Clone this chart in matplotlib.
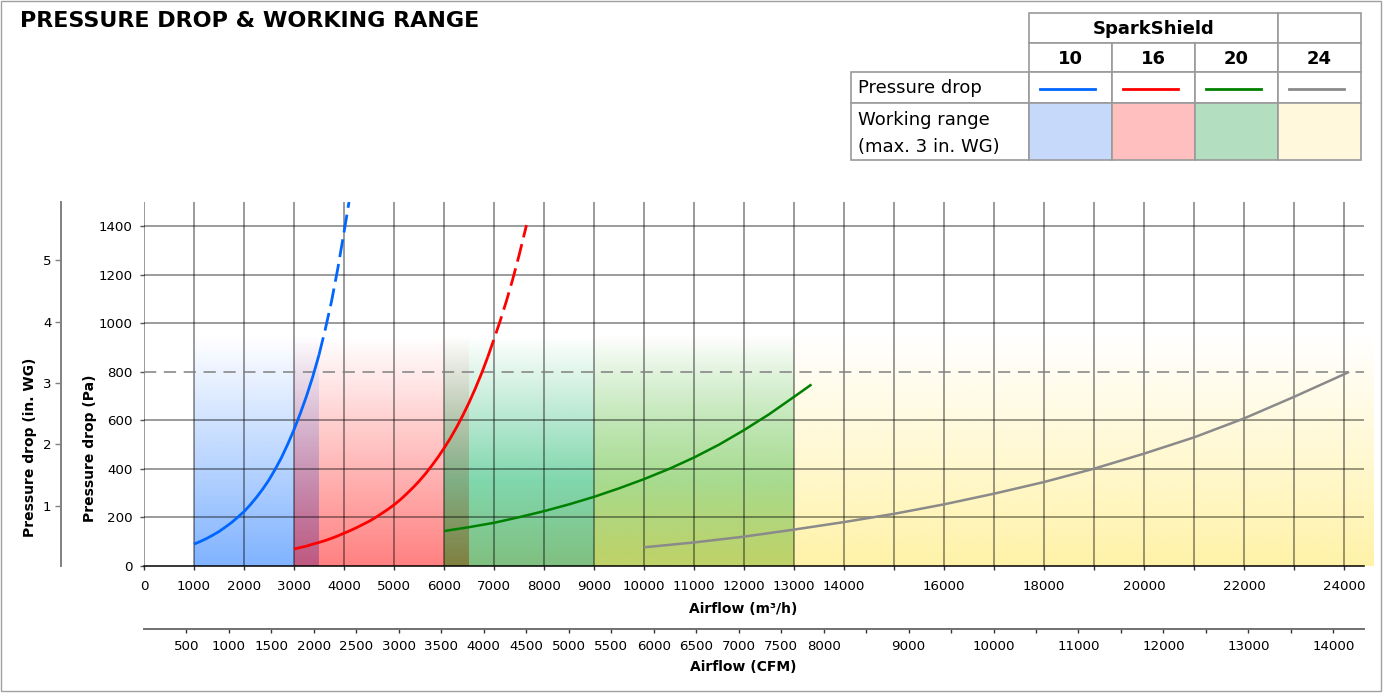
import numpy as np
import matplotlib
matplotlib.use('Agg')
import matplotlib.pyplot as plt
from matplotlib.patches import Rectangle
from matplotlib.lines import Line2D

# values: airflow in m3/h, pressure drop in Pa
models = ['10', '16', '20', '24']

blue_x = [1000, 1125, 1250, 1375, 1500, 1625, 1750, 1875, 2000, 2125, 2250, 2375, 2500,
          2625, 2750, 2875, 3000, 3125, 3250, 3375, 3500, 3625, 3750, 3875, 4000, 4100]
blue_y = [90, 101, 113, 127, 142, 160, 179, 201, 224, 252, 283, 317, 355,
          399, 447, 502, 562, 628, 700, 780, 870, 975, 1090, 1225, 1375, 1500]

red_x = [3000, 3125, 3250, 3375, 3500, 3625, 3750, 3875, 4000, 4125, 4250, 4375, 4500,
         4625, 4750, 4875, 5000, 5125, 5250, 5375, 5500, 5625, 5750, 5875, 6000,
         6125, 6250, 6375, 6500, 6625, 6750, 6875, 7000, 7125, 7250, 7375, 7500, 7650]
red_y = [70, 76, 82, 90, 97, 105, 114, 124, 135, 146, 158, 171, 184,
         199, 216, 233, 252, 273, 297, 322, 349, 379, 412, 447, 485,
         526, 571, 620, 673, 731, 793, 861, 935, 1011, 1093, 1182, 1279, 1405]

green_x = [6000, 6500, 7000, 7500, 8000, 8500, 9000, 9500, 10000, 10500, 11000, 11500,
           12000, 12500, 13000, 13350]
green_y = [144, 160, 178, 201, 226, 254, 285, 320, 358, 400, 447, 500, 560, 625, 697, 748]

gray_x = [10000, 11000, 12000, 13000, 14000, 15000, 16000, 17000, 18000, 19000, 20000,
          21000, 22000, 23000, 24000, 24100]
gray_y = [77, 97, 121, 150, 181, 215, 254, 298, 346, 401, 463, 530, 608, 697, 790, 800]

curves_x = [blue_x, red_x, green_x, gray_x]
curves_y = [blue_y, red_y, green_y, gray_y]
solid_until = [3500, 6875, 13350, 24100]   # beyond this the curve is dashed

working_ranges = [(1000, 3500), (3000, 6500), (6000, 13000), (9000, 24600)]
range_top = 950        # Pa, shading fades out here
limit_pa = 800         # dashed limit line
pa_per_inwg = 252.9    # as drawn on the chart's in. WG scale
inwg_offset = 4.4
m3h_per_cfm = 1.699

line_colors = ['#0066ff', '#ff0000', '#008000', '#8a8a8a']
# bottom colour and mid colour of each working range gradient
shade_bottom = [(0, 102, 255), (255, 0, 0), (0, 128, 0), (255, 230, 80)]
shade_mid = [(0, 102, 255), (255, 0, 0), (0, 175, 90), (255, 230, 80)]
shade_hold = [0, 0, 350, 0]   # Pa up to which the full alpha is kept
swatch_colors = ['#c6d9fb', '#ffbfbf', '#b3dfc0', '#fff8dc']

W, H = 1383, 693
fig = plt.figure(figsize=(W / 100, H / 100), dpi=100)
fig.patch.set_facecolor('white')


def fx(x):
    return x / W


def fy(y):
    return 1 - y / H


ax_l, ax_r, ax_t, ax_b = 144, 1364, 202, 566
ax = fig.add_axes([fx(ax_l), fy(ax_b), (ax_r - ax_l) / W, (ax_b - ax_t) / H])
ax.set_facecolor('none')

# working range gradients
pa = np.linspace(0, range_top, 256)
for (x0, x1), c0, c1, hold in zip(working_ranges, shade_bottom, shade_mid, shade_hold):
    img = np.zeros((256, 1, 4))
    if hold > 0:
        k = np.clip(pa / hold, 0, 1)[:, None]
        img[:, 0, :3] = ((1 - k) * np.array(c0) + k * np.array(c1)) / 255
        img[:, 0, 3] = np.where(pa <= hold, 0.5, 0.5 * (range_top - pa) / (range_top - hold))
    else:
        img[:, 0, :3] = np.array(c0) / 255
        img[:, 0, 3] = 0.5 * (1 - pa / range_top)
    im = ax.imshow(img, extent=[x0, x1, 0, range_top], origin='lower', aspect='auto',
                   interpolation='bilinear', zorder=1)
    im.set_clip_on(False)

xmax, ymax = 24400, 1500
xticks = list(range(0, 24001, 1000))
yticks = list(range(0, 1401, 200))

for xv in xticks:
    ax.plot([xv, xv], [0, ymax], color='black', alpha=0.5, lw=1.1, zorder=2,
            solid_capstyle='butt')
for yv in yticks:
    if yv in (0, limit_pa):
        continue
    ax.plot([0, xmax], [yv, yv], color='black', alpha=0.5, lw=1.1, zorder=2,
            solid_capstyle='butt')
ax.plot([0, xmax], [limit_pa, limit_pa], color='#808080', lw=1.1, ls=(0, (8, 5)), zorder=2)

# pressure drop curves
for xs, ys, split, c in zip(curves_x, curves_y, solid_until, line_colors):
    xs = np.array(xs)
    ys = np.array(ys)
    lw = 2.0 if c in ('#0066ff', '#ff0000') else 1.8
    m = xs <= split
    ax.plot(xs[m], ys[m], color=c, lw=lw, zorder=4, solid_capstyle='butt')
    m2 = xs >= split
    if m2.sum() > 1:
        ax.plot(xs[m2], ys[m2], color=c, lw=lw, ls=(0, (6.5, 2.5)), zorder=4)

ax.set_xlim(0, xmax)
ax.set_ylim(0, ymax)
for s in ['top', 'right', 'left']:
    ax.spines[s].set_visible(False)
ax.spines['bottom'].set_color('black')
ax.spines['bottom'].set_linewidth(1.1)
ax.spines['bottom'].set_zorder(5)

ax.set_xticks(xticks)
ax.set_xticklabels([str(v) if (v <= 14000 or v % 2000 == 0) else '' for v in xticks])
ax.set_yticks(yticks)
ax.set_yticklabels([str(v) for v in yticks])
ax.tick_params(axis='x', direction='out', length=3, width=1, color='#333333', pad=7,
               labelsize=9.6)
ax.tick_params(axis='y', direction='out', length=3, width=1, color='#555555', pad=5,
               labelsize=9.6)

# in. WG axis
sec_y = ax.secondary_yaxis(-(ax_l - 61) / (ax_r - ax_l),
                           functions=(lambda p: (p + inwg_offset) / pa_per_inwg,
                                      lambda w: w * pa_per_inwg - inwg_offset))
sec_y.set_yticks([1, 2, 3, 4, 5])
sec_y.set_yticklabels(['1', '2', '3', '4', '5'])
sec_y.spines['left'].set_color('#808080')
sec_y.spines['left'].set_linewidth(1.4)
sec_y.tick_params(direction='out', length=4, width=1, color='#808080', pad=3, labelsize=9.6)

# CFM axis
cfm_ticks = list(range(500, 14001, 500))
sec_x = ax.secondary_xaxis(-(629 - ax_b) / (ax_b - ax_t),
                           functions=(lambda q: q / m3h_per_cfm, lambda c: c * m3h_per_cfm))
sec_x.set_xticks(cfm_ticks)
sec_x.set_xticklabels([str(v) if (v <= 8000 or v % 1000 == 0) else '' for v in cfm_ticks])
sec_x.spines['bottom'].set_color('#707070')
sec_x.spines['bottom'].set_linewidth(1.4)
sec_x.tick_params(direction='out', length=3, width=1, color='#333333', pad=5, labelsize=9.6)

# axis titles
fig.text(fx(743), fy(609), 'Airflow (m³/h)', ha='center', va='center',
         fontsize=10, fontweight='bold')
fig.text(fx(743), fy(667), 'Airflow (CFM)', ha='center', va='center',
         fontsize=10, fontweight='bold')
fig.text(fx(90), fy(448), 'Pressure drop (Pa)', ha='center', va='center', rotation=90,
         fontsize=10, fontweight='bold')
fig.text(fx(30), fy(447), 'Pressure drop (in. WG)', ha='center', va='center', rotation=90,
         fontsize=10, fontweight='bold')

fig.text(fx(20), fy(21), 'PRESSURE DROP & WORKING RANGE', ha='left', va='center',
         fontsize=16, fontweight='bold')

# legend table
border = '#9a9a9a'
cols = [1028.7, 1111.7, 1195, 1278, 1361]
rows = [13, 42.7, 72, 103, 160]
lab_left = 851


def cell(x0, y0, x1, y1, fc='white'):
    r = Rectangle((fx(x0), fy(y1)), (x1 - x0) / W, (y1 - y0) / H, transform=fig.transFigure,
                  facecolor=fc, edgecolor=border, lw=1.2)
    fig.add_artist(r)


cell(cols[0], rows[0], cols[3], rows[1])
cell(cols[3], rows[0], cols[4], rows[1])
fig.text(fx((cols[0] + cols[3]) / 2), fy(28.5), 'SparkShield', ha='center', va='center',
         fontsize=13, fontweight='bold')
for i, name in enumerate(models):
    cell(cols[i], rows[1], cols[i + 1], rows[2])
    fig.text(fx((cols[i] + cols[i + 1]) / 2), fy(58.5), name, ha='center', va='center',
             fontsize=13, fontweight='bold')
cell(lab_left, rows[2], cols[0], rows[3])
cell(lab_left, rows[3], cols[0], rows[4])
fig.text(fx(858), fy(88), 'Pressure drop', ha='left', va='center', fontsize=13)
fig.text(fx(858), fy(120), 'Working range', ha='left', va='center', fontsize=13)
fig.text(fx(858), fy(147), '(max. 3 in. WG)', ha='left', va='center', fontsize=13)
for i in range(4):
    cell(cols[i], rows[2], cols[i + 1], rows[3])
    fig.add_artist(Line2D([fx(cols[i] + 11), fx(cols[i + 1] - 17)], [fy(89), fy(89)],
                          transform=fig.transFigure, color=line_colors[i], lw=2.0))
    cell(cols[i], rows[3], cols[i + 1], rows[4], fc=swatch_colors[i])

# outer frame
fig.add_artist(Rectangle((fx(1), fy(691)), 1380 / W, 690 / H, transform=fig.transFigure,
                         facecolor='none', edgecolor='#a0a0a0', lw=1))

fig.savefig('out.png', dpi=100)
